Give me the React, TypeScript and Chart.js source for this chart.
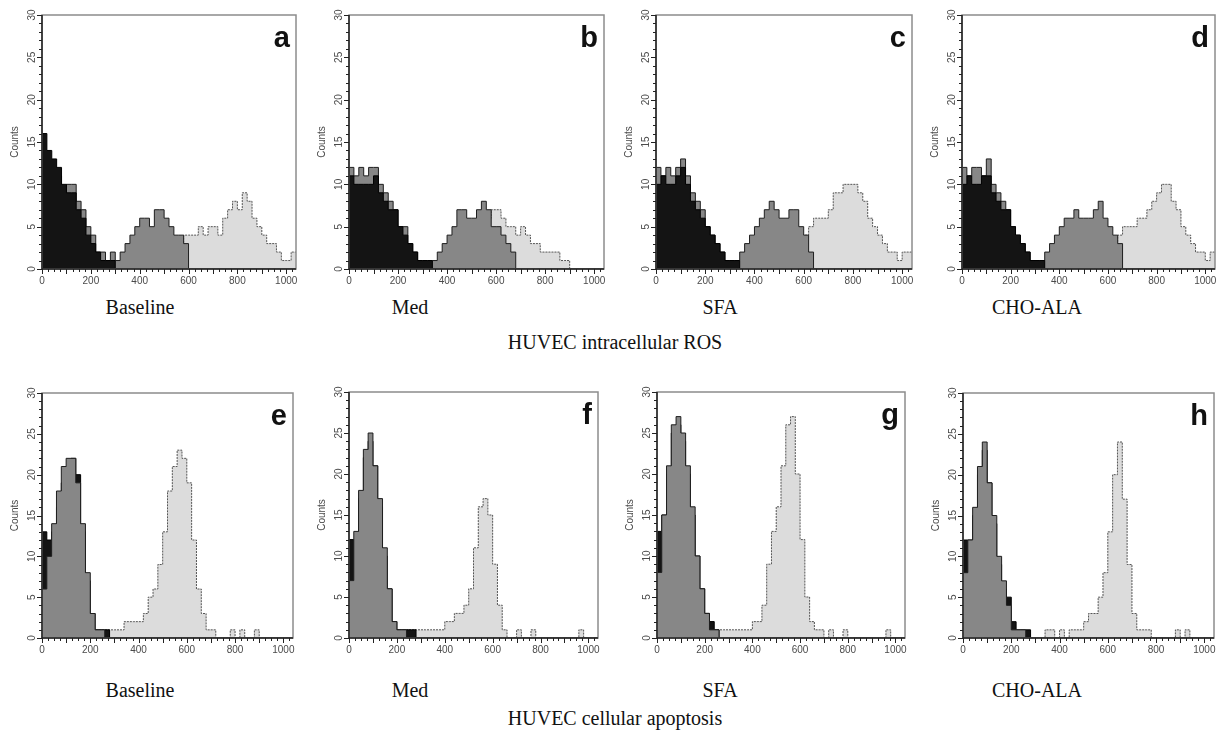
import React, { useEffect, useRef } from 'react';
import { Chart, registerables } from 'chart.js';

Chart.register(...registerables);

// ---------- scale constants ----------
const BIN = 20; // channel width of each histogram bin
const X_MAX = 1040;
const Y_MAX = 30;
const Y_TICK_LABELS = [0, 5, 10, 15, 20, 25, 30];
const X_TICK_LABELS = [0, 200, 400, 600, 800, 1000];

// ---------- captions ----------
const CONDITIONS = ['Baseline', 'Med', 'SFA', 'CHO-ALA'];
const ROW_TITLES = ['HUVEC intracellular ROS', 'HUVEC cellular apoptosis'];
const LETTERS_TOP = ['a', 'b', 'c', 'd'];
const LETTERS_BOTTOM = ['e', 'f', 'g', 'h'];

// ---------- data (counts per 20-channel bin, x = 0,20,...,1020) ----------
// Panel a — ROS Baseline
const blackA = [16,14,13,12,10,9,9,7,6,4, 3,2,1,1,1,0,0,0,0,0, 0,0,0,0,0,0,0,0,0,0, 0,0,0,0,0,0,0,0,0,0, 0,0,0,0,0,0,0,0,0,0, 0,0];
const greyA = [13,12,12,11,9,10,10,8,7,5, 4,2,2,1,2,1,2,3,4,5, 6,6,5,7,7,6,5,4,4,3, 0,0,0,0,0,0,0,0,0,0, 0,0,0,0,0,0,0,0,0,0, 0,0];
const lightA = [0,0,0,0,0,0,0,0,0,0, 0,0,0,0,0,0,0,0,0,0, 0,0,0,0,1,2,2,3,3,4, 4,4,5,4,5,5,4,6,7,8, 7,9,8,6,5,4,3,3,2,1, 1,2];
// Panel b — ROS Med
const blackB = [11,10,10,10,10,11,9,8,7,7, 5,4,3,2,1,1,1,0,0,0, 0,0,0,0,0,0,0,0,0,0, 0,0,0,0,0,0,0,0,0,0, 0,0,0,0,0,0,0,0,0,0, 0,0];
const greyB = [12,11,12,11,12,12,10,9,8,7, 5,5,3,2,1,1,1,1,2,3, 4,5,7,7,6,6,7,8,7,5, 5,4,3,2,0,0,0,0,0,0, 0,0,0,0,0,0,0,0,0,0, 0,0];
const lightB = [0,0,0,0,0,0,0,0,0,0, 0,0,0,0,0,0,0,0,0,0, 0,0,1,2,3,4,4,5,6,7, 7,6,5,5,4,5,4,3,3,2, 2,2,2,1,1,0,0,0,0,0, 0,0];
// Panel c — ROS SFA
const blackC = [10,11,10,10,11,12,10,8,7,6, 5,4,3,2,1,1,1,0,0,0, 0,0,0,0,0,0,0,0,0,0, 0,0,0,0,0,0,0,0,0,0, 0,0,0,0,0,0,0,0,0,0, 0,0];
const greyC = [12,11,12,11,12,13,11,9,8,7, 5,4,3,2,1,1,1,2,3,4, 5,6,7,8,7,6,6,7,7,5, 4,2,0,0,0,0,0,0,0,0, 0,0,0,0,0,0,0,0,0,0, 0,0];
const lightC = [0,0,0,0,0,0,0,0,0,0, 0,0,0,0,0,0,0,0,0,0, 0,0,0,0,1,2,3,4,4,4, 4,5,6,6,6,7,9,9,10,10, 10,9,8,6,5,4,3,2,2,1, 2,2];
// Panel d — ROS CHO-ALA
const blackD = [10,11,10,10,11,11,9,8,7,7, 5,4,3,2,1,1,1,0,0,0, 0,0,0,0,0,0,0,0,0,0, 0,0,0,0,0,0,0,0,0,0, 0,0,0,0,0,0,0,0,0,0, 0,0];
const greyD = [12,11,12,12,11,13,10,9,8,7, 5,4,3,2,1,1,1,2,3,4, 5,6,6,7,6,6,6,7,8,6, 5,4,3,0,0,0,0,0,0,0, 0,0,0,0,0,0,0,0,0,0, 0,0];
const lightD = [0,0,0,0,0,0,0,0,0,0, 0,0,0,0,0,0,0,0,0,0, 0,0,0,0,0,0,0,0,1,2, 3,3,4,5,5,5,6,6,7,8, 9,10,10,8,7,5,4,3,2,2, 1,2];
// Panel e — apoptosis Baseline
const blackE = [13,12,13,16,19,21,22,20,13,7, 3,1,1,1,0,0,0,0,0,0, 0,0,0,0,0,0,0,0,0,0, 0,0,0,0,0,0,0,0,0,0, 0,0,0,0,0,0,0,0,0,0, 0,0];
const greyE = [6,10,14,18,21,22,22,19,14,8, 3,1,1,0,0,0,0,0,0,0, 0,0,0,0,0,0,0,0,0,0, 0,0,0,0,0,0,0,0,0,0, 0,0,0,0,0,0,0,0,0,0, 0,0];
const lightE = [1,1,1,1,1,1,1,1,1,1, 1,1,1,1,1,1,1,2,2,2, 2,3,5,6,9,13,18,21,23,22, 19,12,6,3,1,1,0,0,0,1, 0,1,0,0,1,0,0,0,0,0, 0,0];
// Panel f — apoptosis Med
const blackF = [12,12,17,22,24,21,16,10,6,2, 1,1,1,1,0,0,0,0,0,0, 0,0,0,0,0,0,0,0,0,0, 0,0,0,0,0,0,0,0,0,0, 0,0,0,0,0,0,0,0,0,0, 0,0];
const greyF = [7,13,18,23,25,21,17,11,6,2, 1,1,0,0,0,0,0,0,0,0, 0,0,0,0,0,0,0,0,0,0, 0,0,0,0,0,0,0,0,0,0, 0,0,0,0,0,0,0,0,0,0, 0,0];
const lightF = [1,1,1,1,1,1,1,1,1,1, 1,1,1,1,1,1,1,1,1,1, 2,2,3,3,4,6,11,16,17,15, 9,4,1,0,0,1,0,0,1,0, 0,0,0,0,0,0,0,0,1,0, 0,0];
// Panel g — apoptosis SFA
const blackG = [13,15,20,25,26,24,20,15,10,6, 3,2,1,0,0,0,0,0,0,0, 0,0,0,0,0,0,0,0,0,0, 0,0,0,0,0,0,0,0,0,0, 0,0,0,0,0,0,0,0,0,0, 0,0];
const greyG = [8,15,21,26,27,25,21,16,10,6, 3,1,1,0,0,0,0,0,0,0, 0,0,0,0,0,0,0,0,0,0, 0,0,0,0,0,0,0,0,0,0, 0,0,0,0,0,0,0,0,0,0, 0,0];
const lightG = [1,1,1,1,1,1,1,1,1,1, 1,1,1,1,1,1,1,1,1,1, 2,2,4,9,13,16,21,26,27,20, 12,5,2,1,1,0,1,0,0,1, 0,0,0,0,0,0,0,0,1,0, 0,0];
// Panel h — apoptosis CHO-ALA
const blackH = [12,12,15,20,23,19,14,9,6,5, 2,1,1,1,0,0,0,0,0,0, 0,0,0,0,0,0,0,0,0,0, 0,0,0,0,0,0,0,0,0,0, 0,0,0,0,0,0,0,0,0,0, 0,0];
const greyH = [8,12,16,21,24,19,15,10,7,4, 1,1,1,0,0,0,0,0,0,0, 0,0,0,0,0,0,0,0,0,0, 0,0,0,0,0,0,0,0,0,0, 0,0,0,0,0,0,0,0,0,0, 0,0];
const lightH = [0,0,0,0,0,1,1,1,1,1, 0,0,0,0,0,0,0,1,1,0, 1,0,1,1,1,2,3,3,5,8, 13,20,24,17,9,3,1,1,1,0, 0,0,0,0,1,0,1,0,0,0, 0,0];

// ---------- styles ----------
const STYLES: Record<string, any> = {
  black: { backgroundColor: '#141414', borderColor: '#000000', borderWidth: 1 },
  grey: { backgroundColor: '#878787', borderColor: '#1e1e1e', borderWidth: 1 },
  light: { backgroundColor: '#dcdcdc', borderColor: '#555555', borderWidth: 1, borderDash: [2, 1] },
};

function toPoints(values: number[]) {
  const pts = values.map((v, i) => ({ x: i * BIN, y: v }));
  pts.push({ x: values.length * BIN, y: values[values.length - 1] });
  return pts;
}

const facsAxes = {
  id: 'facsAxes',
  afterDraw(chart: any, _args: any, opts: any) {
    const { ctx, chartArea: a, scales } = chart;
    const x = scales.x;
    const y = scales.y;
    ctx.save();
    // frame
    ctx.strokeStyle = '#8c8c8c';
    ctx.lineWidth = 1.5;
    ctx.strokeRect(a.left, a.top, a.right - a.left, a.bottom - a.top);
    // left & bottom axis lines
    ctx.strokeStyle = '#222';
    ctx.beginPath();
    ctx.moveTo(a.left, a.top);
    ctx.lineTo(a.left, a.bottom);
    ctx.lineTo(a.right, a.bottom);
    ctx.stroke();
    // y ticks
    ctx.lineWidth = 1;
    ctx.beginPath();
    for (let v = 0; v <= Y_MAX; v++) {
      const py = Math.round(y.getPixelForValue(v)) + 0.5;
      const len = v % 5 === 0 ? 5 : 3;
      ctx.moveTo(a.left - len, py);
      ctx.lineTo(a.left, py);
    }
    // x ticks
    for (let v = 0; v <= X_MAX; v += 25) {
      const px = Math.round(x.getPixelForValue(v)) + 0.5;
      const len = v % 100 === 0 ? 5 : 3;
      ctx.moveTo(px, a.bottom);
      ctx.lineTo(px, a.bottom + len);
    }
    ctx.stroke();
    // labels
    ctx.fillStyle = '#4a4a4a';
    ctx.font = '10px "Liberation Sans", Arial, sans-serif';
    ctx.textAlign = 'center';
    ctx.textBaseline = 'middle';
    Y_TICK_LABELS.forEach((v) => {
      ctx.save();
      ctx.translate(a.left - 10, y.getPixelForValue(v));
      ctx.rotate(-Math.PI / 2);
      ctx.fillText(String(v), 0, 0);
      ctx.restore();
    });
    ctx.textBaseline = 'top';
    X_TICK_LABELS.forEach((v) => {
      ctx.fillText(String(v), x.getPixelForValue(v), a.bottom + 7);
    });
    // axis title
    ctx.save();
    ctx.translate(a.left - 27, (a.top + a.bottom) / 2);
    ctx.rotate(-Math.PI / 2);
    ctx.textBaseline = 'middle';
    ctx.fillText('Counts', 0, 0);
    ctx.restore();
    // panel letter
    ctx.fillStyle = '#111';
    ctx.font = 'bold 29px "Liberation Sans", Arial, sans-serif';
    ctx.textAlign = 'right';
    ctx.textBaseline = 'alphabetic';
    ctx.fillText(opts.letter || '', a.right - 6, a.top + 32);
    ctx.restore();
  },
};

type PanelProps = {
  box: [number, number, number, number];
  letter: string;
  series: { values: number[]; kind: string }[];
};

const PAD_L = 42;
const PAD_T = 6;
const PAD_R = 8;
const PAD_B = 24;

function Panel({ box, letter, series }: PanelProps) {
  const ref = useRef<HTMLCanvasElement | null>(null);
  const [l, t, r, b] = box;
  const w = r - l + PAD_L + PAD_R;
  const h = b - t + PAD_T + PAD_B;
  useEffect(() => {
    if (!ref.current) return;
    const chart = new Chart(ref.current, {
      type: 'line',
      data: {
        datasets: series.map((s) => ({
          data: toPoints(s.values),
          stepped: 'before',
          fill: 'origin',
          pointRadius: 0,
          tension: 0,
          ...STYLES[s.kind],
        })),
      },
      options: {
        responsive: false,
        animation: false,
        events: [],
        layout: { padding: { left: PAD_L, top: PAD_T, right: PAD_R, bottom: PAD_B } },
        scales: {
          x: { type: 'linear', min: 0, max: X_MAX, display: false },
          y: { type: 'linear', min: 0, max: Y_MAX, display: false },
        },
        plugins: {
          legend: { display: false },
          tooltip: { enabled: false },
          facsAxes: { letter },
        } as any,
      },
      plugins: [facsAxes],
    } as any);
    return () => chart.destroy();
  }, []);
  return (
    <canvas
      ref={ref}
      width={w}
      height={h}
      style={{ position: 'absolute', left: l - PAD_L, top: t - PAD_T, width: w, height: h }}
    />
  );
}

const TOP_BOXES: [number, number, number, number][] = [
  [42, 15, 296, 269],
  [349, 15, 604, 269],
  [656, 15, 912, 269],
  [962, 15, 1215, 269],
];
const BOTTOM_BOXES: [number, number, number, number][] = [
  [42, 393, 293, 638],
  [349, 392, 598, 638],
  [657, 392, 905, 638],
  [963, 393, 1214, 638],
];
const CAPTION_X = [140, 410, 720, 1037];

const TOP_SERIES = [
  [blackA, greyA, lightA],
  [blackB, greyB, lightB],
  [blackC, greyC, lightC],
  [blackD, greyD, lightD],
];
const BOTTOM_SERIES = [
  [blackE, greyE, lightE],
  [blackF, greyF, lightF],
  [blackG, greyG, lightG],
  [blackH, greyH, lightH],
];

function Caption({ x, y, text }: { x: number; y: number; text: string }) {
  return (
    <div
      style={{
        position: 'absolute',
        left: x - 150,
        top: y - 12,
        width: 300,
        height: 24,
        lineHeight: '24px',
        textAlign: 'center',
        fontFamily: '"Liberation Serif", "Times New Roman", serif',
        fontSize: 20,
        color: '#111',
        whiteSpace: 'nowrap',
      }}
    >
      {text}
    </div>
  );
}

export default function App() {
  return (
    <div
      style={{
        position: 'fixed',
        left: 0,
        top: 0,
        width: 1229,
        height: 732,
        background: '#ffffff',
        overflow: 'hidden',
      }}
    >
      {TOP_BOXES.map((box, i) => (
        <Panel
          key={'t' + i}
          box={box}
          letter={LETTERS_TOP[i]}
          series={[
            { values: TOP_SERIES[i][0], kind: 'black' },
            { values: TOP_SERIES[i][1], kind: 'grey' },
            { values: TOP_SERIES[i][2], kind: 'light' },
          ]}
        />
      ))}
      {BOTTOM_BOXES.map((box, i) => (
        <Panel
          key={'b' + i}
          box={box}
          letter={LETTERS_BOTTOM[i]}
          series={[
            { values: BOTTOM_SERIES[i][1], kind: 'grey' },
            { values: BOTTOM_SERIES[i][0], kind: 'black' },
            { values: BOTTOM_SERIES[i][2], kind: 'light' },
          ]}
        />
      ))}
      {CONDITIONS.map((c, i) => (
        <Caption key={'ct' + i} x={CAPTION_X[i]} y={307} text={c} />
      ))}
      <Caption x={615} y={342} text={ROW_TITLES[0]} />
      {CONDITIONS.map((c, i) => (
        <Caption key={'cb' + i} x={CAPTION_X[i]} y={690} text={c} />
      ))}
      <Caption x={615} y={718} text={ROW_TITLES[1]} />
    </div>
  );
}
